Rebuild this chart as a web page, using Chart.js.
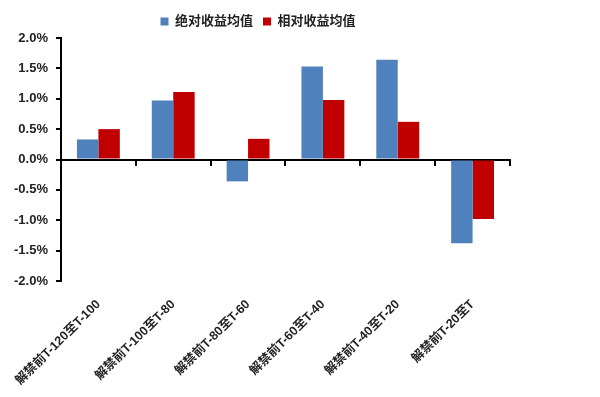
<!DOCTYPE html>
<html>
<head>
<meta charset="utf-8">
<script src="https://cdn.jsdelivr.net/npm/chart.js@4/dist/chart.umd.min.js"></script>
<style>
  html, body { margin: 0; padding: 0; background: #fff; }
  #wrap { width: 600px; height: 397px; }
</style>
</head>
<body>
<div id="wrap"><canvas id="chart"></canvas></div>
<script>
const categories = ['解禁前T-120至T-100', '解禁前T-100至T-80', '解禁前T-80至T-60', '解禁前T-60至T-40', '解禁前T-40至T-20', '解禁前T-20至T']
const absReturn = [0.33, 0.97, -0.36, 1.53, 1.64, -1.38]
const relReturn = [0.50, 1.11, 0.34, 0.98, 0.62, -0.98]
const yTicks = [-2.0, -1.5, -1.0, -0.5, 0.0, 0.5, 1.0, 1.5, 2.0]

const fontFamily = "'Liberation Sans', 'Noto Sans CJK SC', sans-serif"

new Chart(document.getElementById('chart'), {
    type: 'bar',
    data: {
        labels: categories,
        datasets: [
            {
                label: '绝对收益均值',
                data: absReturn,
                backgroundColor: '#4f81bd',
                xAxisID: 'x',
                categoryPercentage: 0.573,
                barPercentage: 1.0,
            },
            {
                label: '相对收益均值',
                data: relReturn,
                backgroundColor: '#c00000',
                xAxisID: 'x',
                categoryPercentage: 0.573,
                barPercentage: 1.0,
            }
        ]
    },
    options: {
        responsive: true,
        maintainAspectRatio: false,
        animation: false,
        layout: { padding: { left: 6, right: 90, top: 5, bottom: 0 } },
        plugins: {
            legend: {
                display: true,
                position: 'top',
                labels: {
                    boxWidth: 8,
                    boxHeight: 8,
                    padding: 10,
                    color: '#222',
                    font: { family: fontFamily, size: 13, weight: 'bold' },
                },
            },
            tooltip: { enabled: false },
        },
        scales: {
            x: {
                position: 'bottom',
                border: { display: false },
                grid: { display: false },
                ticks: {
                    minRotation: 45,
                    maxRotation: 45,
                    padding: 8,
                    color: '#222',
                    font: { family: fontFamily, size: 12.5, weight: 'bold' },
                },
                afterFit: (scale) => { scale.height = 116 },
            },
            x0: {
                type: 'category',
                position: { y: 0 },
                offset: true,
                border: { display: true, color: '#000', width: 2 },
                grid: { offset: true, drawOnChartArea: false, drawTicks: true, tickLength: 5, color: '#000', lineWidth: 2 },
                ticks: { display: false },
            },
            y: {
                min: -2.0,
                max: 2.0,
                border: { display: true, color: '#000', width: 2 },
                grid: { drawOnChartArea: false, drawTicks: true, tickLength: 5, color: '#000', lineWidth: 2 },
                afterBuildTicks: (scale) => { scale.ticks = yTicks.map(v => ({ value: v })) },
                ticks: {
                    padding: 8,
                    color: '#222',
                    font: { family: fontFamily, size: 13, weight: 'bold' },
                    callback: (v) => v.toFixed(1) + '%',
                },
            },
        },
    },
})
</script>
</body>
</html>
